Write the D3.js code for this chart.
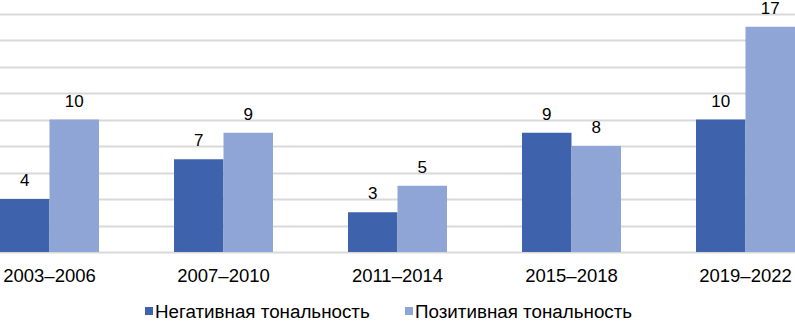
<!DOCTYPE html>
<html>
<head>
<meta charset="utf-8">
<script src="https://cdn.jsdelivr.net/npm/d3@7"></script>
<style>
  body { margin: 0; background: #fff; }
  text { font-family: "Liberation Sans", Arial, sans-serif; fill: #000; }
</style>
</head>
<body>
<div id="chart"></div>
<script>
// data
const periods = ["2003–2006", "2007–2010", "2011–2014", "2015–2018", "2019–2022"];
const negative = [4, 7, 3, 9, 10];
const positive = [10, 9, 5, 8, 17];
const seriesNames = ["Негативная тональность", "Позитивная тональность"];
const gridTicks = [0, 2, 4, 6, 8, 10, 12, 14, 16, 18];

const colors = ["#3e63ac", "#8fa5d5"];
const width = 795, height = 323;

let svg = d3.select("#chart").append("svg")
    .attr("width", width)
    .attr("height", height);

let x = d3.scaleBand().domain(periods).range([-37.5, 832.5]).padding(0);
let xSub = d3.scaleBand().domain([0, 1]).range([0, x.bandwidth()]).paddingInner(0).paddingOuter(0.758);
let y = d3.scaleLinear().domain([0, 18]).range([252, 13.5]);

// grid lines
svg.append("g")
    .selectAll("line")
    .data(gridTicks)
    .enter()
    .append("line")
    .attr("x1", 0)
    .attr("x2", width)
    .attr("y1", d => Math.round(y(d)) + 0.5)
    .attr("y2", d => Math.round(y(d)) + 0.5)
    .attr("stroke", "#d9d9d9")
    .attr("stroke-width", 2);

let rows = periods.map((p, i) => ({ period: p, values: [negative[i], positive[i]] }));

let groups = svg.selectAll(".group")
    .data(rows)
    .enter()
    .append("g")
    .attr("class", "group")
    .attr("transform", d => "translate(" + x(d.period) + ",0)");

groups.selectAll("rect")
    .data(d => d.values)
    .enter()
    .append("rect")
    .attr("x", (d, i) => xSub(i))
    .attr("width", xSub.bandwidth())
    .attr("y", d => y(d))
    .attr("height", d => y(0) - y(d))
    .attr("fill", (d, i) => colors[i]);

groups.selectAll(".label")
    .data(d => d.values)
    .enter()
    .append("text")
    .attr("class", "label")
    .attr("x", (d, i) => xSub(i) + xSub.bandwidth() / 2)
    .attr("y", d => y(d) - 13)
    .attr("text-anchor", "middle")
    .style("font-size", "17px")
    .text(d => d);

// category labels
svg.append("g")
    .selectAll("text")
    .data(periods)
    .enter()
    .append("text")
    .attr("x", d => x(d) + x.bandwidth() / 2)
    .attr("y", 282)
    .attr("text-anchor", "middle")
    .style("font-size", "18.5px")
    .text(d => d);

// legend (kept just inside the bottom edge)
let legendX = [145, 405];
let legend = svg.append("g")
    .selectAll("g")
    .data(seriesNames)
    .enter()
    .append("g")
    .attr("transform", (d, i) => "translate(" + legendX[i] + ",0)");

legend.append("rect")
    .attr("x", 0)
    .attr("y", 307)
    .attr("width", 8)
    .attr("height", 8)
    .attr("fill", (d, i) => colors[i]);

legend.append("text")
    .attr("x", 10)
    .attr("y", 318)
    .style("font-size", "18.8px")
    .text(d => d);
</script>
</body>
</html>
